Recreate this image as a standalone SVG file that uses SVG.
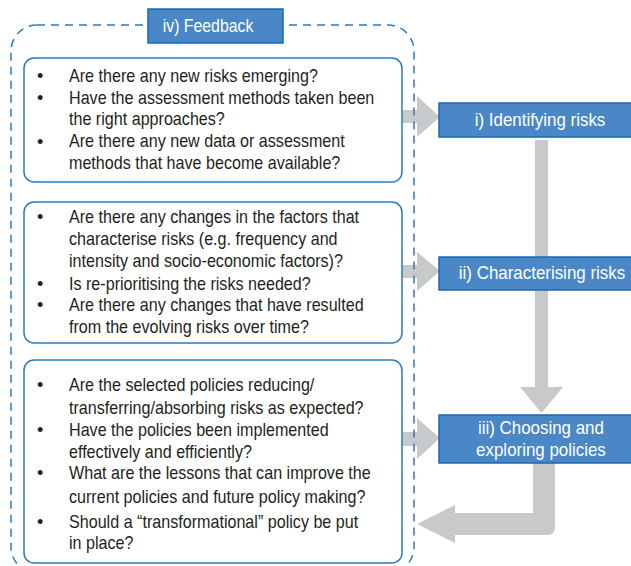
<svg xmlns="http://www.w3.org/2000/svg" width="631" height="566" viewBox="0 0 631 566">
<style>
.q{fill:#fff;stroke:#2a7bbf;stroke-width:1.5}
.bl{fill:#4a87c6;stroke:#1a68b3;stroke-width:1.5}
.t{font-family:"Liberation Sans",sans-serif;font-size:18px;fill:#231f20}
.w{font-family:"Liberation Sans",sans-serif;font-size:18px;fill:#fff;text-anchor:middle}
.g{fill:#c8c9cb}
</style>
<rect width="631" height="566" fill="#fff"/>
<g id="connectors">
<path class="g" d="M402,110 H417 V96 L440,117 L417,137 V123 H402 Z"/>
<path class="g" d="M402,265 H417 V252 L440,271 L417,291 V278 H402 Z"/>
<path class="g" d="M402,432 H417 V418 L440,438 L417,459 V446 H402 Z"/>
<path class="g" d="M535,140 H548 V387 H563 L541.5,413 L520,387 H535 Z"/>
<path class="g" d="M533,463 H555 V527 Q555,535 547,535 H455 V543 L417,524 L455,505 V513 H533 Z"/>
</g>
<g id="feedback">
<rect x="11" y="25" width="403" height="548" rx="26" fill="none" stroke="#2a7bbf" stroke-width="1.5" stroke-dasharray="8,6"/>
<rect class="bl" x="148" y="9" width="135" height="34"/>
<text class="w" x="236.4" y="32" transform="scale(0.88,1)">iv) Feedback</text>
</g>
<g id="q1">
<rect class="q" x="24" y="58" width="378" height="124" rx="10"/>
<text class="t"><tspan x="37" y="82">•</tspan><tspan x="37" y="104">•</tspan><tspan x="37" y="147.5">•</tspan></text>
<text class="t" transform="scale(0.895,1)"><tspan x="77.1" y="82">Are there any new risks emerging?</tspan>
<tspan x="77.1" y="104">Have the assessment methods taken been</tspan>
<tspan x="77.1" y="125.5">the right approaches?</tspan>
<tspan x="77.1" y="147.5">Are there any new data or assessment</tspan>
<tspan x="77.1" y="169">methods that have become available?</tspan></text>
</g>
<g id="q2">
<rect class="q" x="24" y="202" width="378" height="141" rx="10"/>
<text class="t"><tspan x="37" y="223">•</tspan><tspan x="37" y="290">•</tspan><tspan x="37" y="311">•</tspan></text>
<text class="t" transform="scale(0.895,1)"><tspan x="77.1" y="223">Are there any changes in the factors that</tspan>
<tspan x="77.1" y="245.5">characterise risks (e.g. frequency and</tspan>
<tspan x="77.1" y="267.5">intensity and socio-economic factors)?</tspan>
<tspan x="77.1" y="290">Is re-prioritising the risks needed?</tspan>
<tspan x="77.1" y="311">Are there any changes that have resulted</tspan>
<tspan x="77.1" y="333">from the evolving risks over time?</tspan></text>
</g>
<g id="q3">
<rect class="q" x="24" y="360" width="378" height="203" rx="10"/>
<text class="t"><tspan x="37" y="391">•</tspan><tspan x="37" y="436">•</tspan><tspan x="37" y="479">•</tspan><tspan x="37" y="528">•</tspan></text>
<text class="t" transform="scale(0.895,1)"><tspan x="77.1" y="391">Are the selected policies reducing/</tspan>
<tspan x="77.1" y="414">transferring/absorbing risks as expected?</tspan>
<tspan x="77.1" y="436">Have the policies been implemented</tspan>
<tspan x="77.1" y="458">effectively and efficiently?</tspan>
<tspan x="77.1" y="479">What are the lessons that can improve the</tspan>
<tspan x="77.1" y="503">current policies and future policy making?</tspan>
<tspan x="77.1" y="528">Should a “transformational” policy be put</tspan>
<tspan x="77.1" y="549">in place?</tspan></text>
</g>
<g id="s1">
<rect class="bl" x="439" y="103" width="200" height="34"/>
<text class="w" x="574.5" y="126.5" transform="scale(0.94,1)">i) Identifying risks</text>
</g>
<g id="s2">
<rect class="bl" x="439" y="257" width="200" height="33"/>
<text class="w" x="576.6" y="279.5" transform="scale(0.94,1)">ii) Characterising risks</text>
</g>
<g id="s3">
<rect class="bl" x="439" y="415" width="200" height="48"/>
<text class="w" x="575.5" y="434.5" transform="scale(0.94,1)">iii) Choosing and</text>
<text class="w" x="575.5" y="456.5" transform="scale(0.94,1)">exploring policies</text>
</g>
</svg>
